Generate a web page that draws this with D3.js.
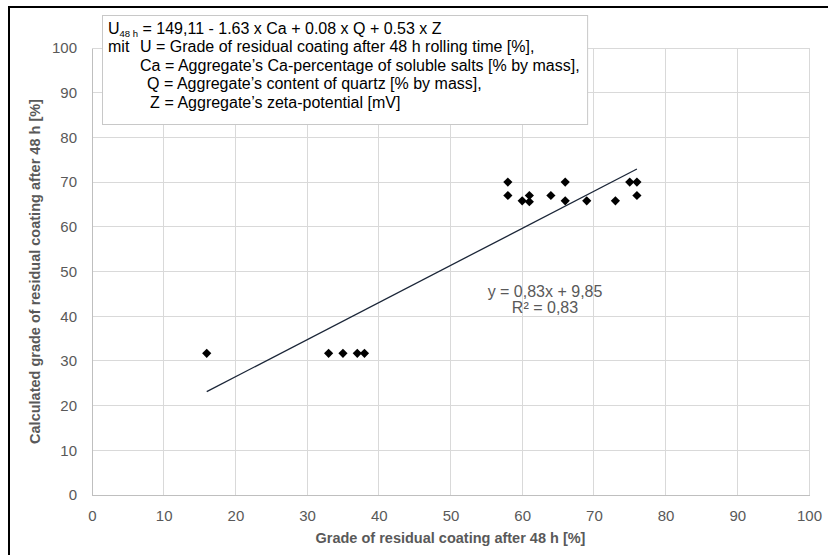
<!DOCTYPE html>
<html>
<head>
<meta charset="utf-8">
<script src="https://cdn.jsdelivr.net/npm/d3@7"></script>
<style>
  html, body { margin: 0; padding: 0; background: #fff; }
  svg { display: block; }
  text { font-family: "Liberation Sans", Arial, sans-serif; }
</style>
</head>
<body>
<svg id="chart" width="828" height="555"></svg>
<script>
// ---- data ----
const measured   = [16, 33, 35, 37, 38, 58, 58, 60, 61, 61, 64, 66, 66, 69, 73, 75, 76, 76];
const calculated = [31.7, 31.7, 31.7, 31.7, 31.7, 70, 67, 65.8, 67, 65.6, 67, 70, 65.8, 65.8, 65.8, 70, 70, 67];
const xTicks = [0, 10, 20, 30, 40, 50, 60, 70, 80, 90, 100];
const yTicks = [0, 10, 20, 30, 40, 50, 60, 70, 80, 90, 100];
const trendSlope = 0.83;
const trendIntercept = 9.85;
const trendRange = [16, 76];
const trendLabel = ["y = 0,83x + 9,85", "R² = 0,83"];
const xTitle = "Grade of residual coating after 48 h [%]";
const yTitle = "Calculated grade of residual coating after 48 h [%]";
const noteLines = [
  { lead: "", sym: "", rest: " = 149,11 - 1.63 x Ca + 0.08 x Q + 0.53 x Z" },
  { lead: "mit", sym: "U", rest: "= Grade of residual coating after 48 h rolling time [%]," },
  { lead: "", sym: "Ca", rest: "= Aggregate\u2019s Ca-percentage of soluble salts [% by mass]," },
  { lead: "", sym: "Q", rest: "= Aggregate\u2019s content of quartz [% by mass]," },
  { lead: "", sym: "Z", rest: "= Aggregate\u2019s zeta-potential [mV]" }
];

// ---- layout ----
const svg = d3.select("#chart");
const x = d3.scaleLinear().domain([0, 100]).range([92, 809]);
const y = d3.scaleLinear().domain([0, 100]).range([495, 48]);
const gray = "#595959";
const fsTick = 15;
const fsTitle = 14.5;
const fsNote = 16;

// outer frame (top and left visible)
svg.append("rect").attr("x", 9).attr("y", 7).attr("width", 840).attr("height", 560)
  .attr("fill", "none").attr("stroke", "#000").attr("stroke-width", 2);

// gridlines
svg.append("g").selectAll("line").data(yTicks.filter(d => d > 0)).join("line")
  .attr("x1", x(0)).attr("x2", x(100)).attr("y1", d => y(d)).attr("y2", d => y(d))
  .attr("stroke", "#d9d9d9").attr("stroke-width", 1).attr("shape-rendering", "crispEdges");
svg.append("g").selectAll("line").data(xTicks.filter(d => d > 0)).join("line")
  .attr("y1", y(0)).attr("y2", y(100)).attr("x1", d => x(d)).attr("x2", d => x(d))
  .attr("stroke", "#d9d9d9").attr("stroke-width", 1).attr("shape-rendering", "crispEdges");

// axes
const xAxis = svg.append("g").attr("transform", `translate(0,${y(0)})`)
  .call(d3.axisBottom(x).tickValues(xTicks).tickSize(0).tickPadding(15));
const yAxis = svg.append("g").attr("transform", `translate(${x(0)},0)`)
  .call(d3.axisLeft(y).tickValues(yTicks).tickSize(0).tickPadding(15));
[xAxis, yAxis].forEach(g => {
  g.select(".domain").attr("stroke", "#bfbfbf").attr("shape-rendering", "crispEdges");
  g.selectAll("text").attr("fill", gray).attr("font-size", fsTick)
    .attr("font-family", "Liberation Sans, Arial, sans-serif");
});

// axis titles
svg.append("text").attr("x", (x(0) + x(100)) / 2).attr("y", 543)
  .attr("text-anchor", "middle").attr("font-weight", "bold").attr("font-size", fsTitle)
  .attr("fill", gray).text(xTitle);
svg.append("text").attr("transform", `translate(40,${(y(0) + y(100)) / 2}) rotate(-90)`)
  .attr("text-anchor", "middle").attr("font-weight", "bold").attr("font-size", fsTitle)
  .attr("fill", gray).text(yTitle);

// trendline
svg.append("line")
  .attr("x1", x(trendRange[0])).attr("y1", y(trendSlope * trendRange[0] + trendIntercept))
  .attr("x2", x(trendRange[1])).attr("y2", y(trendSlope * trendRange[1] + trendIntercept))
  .attr("stroke", "#1b2638").attr("stroke-width", 1.3);

svg.append("g").selectAll("text").data(trendLabel).join("text")
  .attr("x", 545).attr("y", (d, i) => 297 + i * 16)
  .attr("text-anchor", "middle").attr("font-size", 16).attr("fill", gray).text(d => d);

// markers (diamonds)
const r = 4.6;
svg.append("g").selectAll("path").data(measured.map((m, i) => [m, calculated[i]])).join("path")
  .attr("d", d => {
    const cx = x(d[0]), cy = y(d[1]);
    return `M${cx},${cy - r}L${cx + r},${cy}L${cx},${cy + r}L${cx - r},${cy}Z`;
  })
  .attr("fill", "#000");

// annotation box
const box = svg.append("g");
const boxLeft = 102.5;
const boxRect = box.append("rect").attr("x", boxLeft).attr("y", 15.5).attr("height", 109)
  .attr("fill", "#fff").attr("stroke", "#c8c8c8").attr("stroke-width", 1);
const tx = 108, ty0 = 33.5, lh = 18.6;
const symX = [0, 140, 140, 147, 150];   // left edge of symbol
const restX = [0, 156, 165, 164, 164.5];
noteLines.forEach((ln, i) => {
  const yy = ty0 + i * lh;
  if (i === 0) {
    const t = box.append("text").attr("x", tx).attr("y", yy).attr("font-size", fsNote).attr("fill", "#000");
    t.append("tspan").text("U");
    t.append("tspan").attr("font-size", 9.5).attr("dy", 3.5).text("48 h");
    t.append("tspan").attr("dy", -3.5).text(ln.rest);
  } else {
    if (ln.lead) box.append("text").attr("x", tx).attr("y", yy).attr("font-size", fsNote).text(ln.lead);
    box.append("text").attr("x", symX[i]).attr("y", yy).attr("font-size", fsNote).text(ln.sym);
    box.append("text").attr("x", restX[i]).attr("y", yy).attr("font-size", fsNote).text(ln.rest);
  }
});
let maxR = 0;
box.selectAll("text").each(function () {
  const b = this.getBBox(); maxR = Math.max(maxR, b.x + b.width);
});
boxRect.attr("width", maxR + 8 - boxLeft);
</script>
</body>
</html>
